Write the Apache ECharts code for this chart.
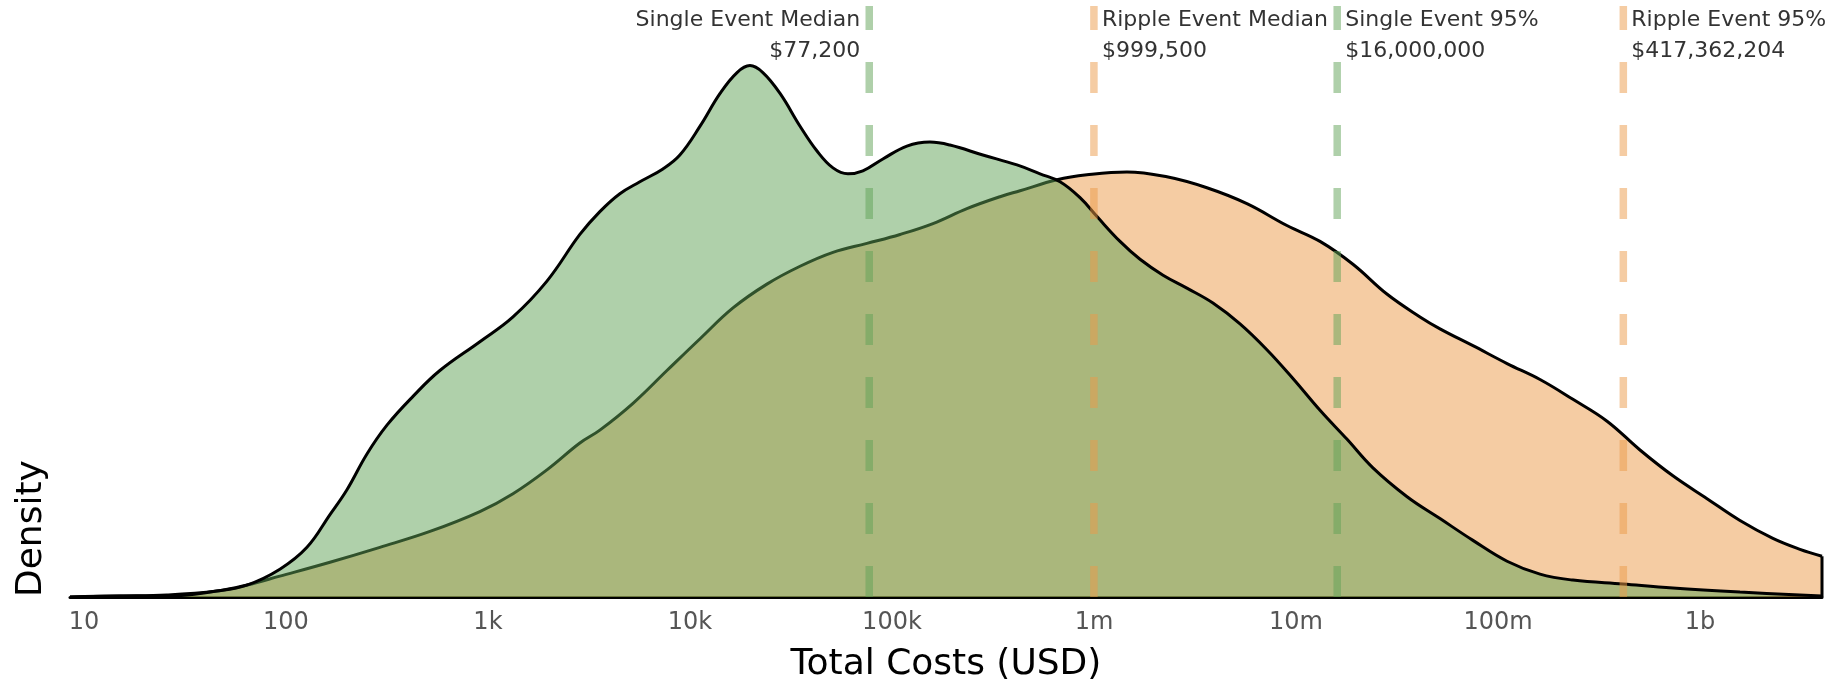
<!DOCTYPE html>
<html>
<head>
<meta charset="utf-8">
<script src="https://cdn.jsdelivr.net/npm/echarts@6/dist/echarts.min.js"></script>
<style>
  html, body { margin: 0; padding: 0; background: #fff; }
  #chart { width: 1842px; height: 688px; }
</style>
</head>
<body>
<div id="chart"></div>
<script>
// x positions are log10(total cost in USD); densities are KDE heights per decade
const tickLogs = [1, 2, 3, 4, 5, 6, 7, 8, 9];
const tickLabels = ['10', '100', '1k', '10k', '100k', '1m', '10m', '100m', '1b'];

const singleLogCost = [0.931, 1.178, 1.411, 1.658, 1.807, 1.970, 2.104, 2.218, 2.302, 2.401,
  2.500, 2.629, 2.762, 2.960, 3.124, 3.292, 3.455, 3.554, 3.653, 3.752,
  3.866, 3.950, 4.050, 4.149, 4.233, 4.297, 4.361, 4.446, 4.545, 4.629,
  4.708, 4.782, 4.856, 4.955, 5.074, 5.188, 5.287, 5.450, 5.619, 5.733,
  5.832, 5.931, 6.015, 6.129, 6.228, 6.342, 6.460, 6.589, 6.723, 6.856,
  6.985, 7.119, 7.252, 7.381, 7.550, 7.713, 7.876, 8.045, 8.208, 8.371,
  8.619, 8.866, 9.198, 9.604];
const singleDensity = [0, 0.001, 0.001, 0.006, 0.012, 0.028, 0.050, 0.083, 0.108, 0.144,
  0.173, 0.202, 0.228, 0.257, 0.282, 0.318, 0.365, 0.388, 0.406, 0.418,
  0.431, 0.445, 0.474, 0.507, 0.528, 0.535, 0.528, 0.507, 0.474, 0.449,
  0.432, 0.426, 0.429, 0.441, 0.454, 0.458, 0.455, 0.445, 0.435, 0.426,
  0.418, 0.402, 0.383, 0.358, 0.340, 0.324, 0.311, 0.296, 0.275, 0.249,
  0.220, 0.188, 0.159, 0.130, 0.101, 0.079, 0.057, 0.036, 0.023, 0.017,
  0.013, 0.009, 0.005, 0.001];

const rippleLogCost = [0.931, 1.178, 1.411, 1.658, 1.807, 1.970, 2.218, 2.465, 2.713, 2.960,
  3.124, 3.292, 3.455, 3.554, 3.718, 3.886, 4.050, 4.213, 4.381, 4.545,
  4.708, 4.876, 5.040, 5.203, 5.371, 5.535, 5.634, 5.817, 5.965, 6.163,
  6.361, 6.559, 6.757, 6.955, 7.119, 7.282, 7.450, 7.614, 7.713, 7.876,
  8.045, 8.208, 8.371, 8.540, 8.703, 8.866, 9.035, 9.198, 9.361, 9.495,
  9.604];
const rippleDensity = [0, 0.001, 0.002, 0.006, 0.012, 0.021, 0.035, 0.050, 0.066, 0.086,
  0.104, 0.128, 0.155, 0.168, 0.195, 0.228, 0.260, 0.291, 0.315, 0.333,
  0.347, 0.356, 0.365, 0.376, 0.391, 0.403, 0.409, 0.420, 0.425, 0.428,
  0.423, 0.412, 0.396, 0.374, 0.358, 0.335, 0.305, 0.282, 0.270, 0.253,
  0.235, 0.219, 0.199, 0.177, 0.148, 0.122, 0.099, 0.077, 0.059, 0.048,
  0.041];

const markerNames = ['Single Event Median', 'Ripple Event Median', 'Single Event 95%', 'Ripple Event 95%'];
const markerCosts = [77200, 999500, 16000000, 417362204];
const markerGroups = ['single', 'ripple', 'single', 'ripple'];

const X_MIN = 0.931, X_MAX = 9.604, Y_MAX = 0.595;
const FONT = 'DejaVu Sans';
const fills = { single: 'rgba(95,161,85,0.5)', ripple: 'rgba(235,153,71,0.5)' };

const zip = (xs, ys) => xs.map((x, i) => [x, ys[i]]);
const chart = echarts.init(document.getElementById('chart'), null, { renderer: 'canvas' });

function densitySeries(name, xs, ys, group, z) {
  return {
    name, type: 'line', data: zip(xs, ys), z,
    smooth: 0.4,
    showSymbol: false, symbol: 'none', silent: true,
    lineStyle: { color: '#000', width: 3 },
    areaStyle: { color: fills[group], origin: 'start', opacity: 1 }
  };
}

const series = [
  densitySeries('Ripple Event', rippleLogCost, rippleDensity, 'ripple', 2),
  densitySeries('Single Event', singleLogCost, singleDensity, 'single', 3),
  // closing edge of the ripple density at the right border
  {
    type: 'line', z: 3, silent: true, symbol: 'none',
    data: [[X_MAX, 0], [X_MAX, rippleDensity[rippleDensity.length - 1]]],
    lineStyle: { color: '#000', width: 3 }
  }
];

markerCosts.forEach((cost, i) => {
  const lx = Math.log10(cost);
  series.push({
    type: 'line', z: 5, silent: true, symbol: 'none',
    data: [[lx, 0], [lx, Y_MAX]],
    lineStyle: { color: fills[markerGroups[i]], width: 7.5, type: [31, 32], cap: 'butt' }
  });
});

chart.setOption({
  backgroundColor: '#fff',
  animation: false,
  grid: { left: 70, right: 20, top: 6, bottom: 87, containLabel: false },
  xAxis: {
    type: 'value', min: X_MIN, max: X_MAX,
    name: 'Total Costs (USD)', nameLocation: 'middle', nameGap: 50,
    nameTextStyle: { fontFamily: FONT, fontSize: 36, color: '#000' },
    axisLine: { show: true, lineStyle: { color: '#000', width: 3 } },
    axisTick: { show: false },
    splitLine: { show: false },
    axisLabel: {
      customValues: tickLogs,
      margin: 14,
      fontFamily: FONT, fontSize: 24, color: '#555',
      formatter: v => tickLabels[tickLogs.indexOf(Math.round(v))]
    }
  },
  yAxis: {
    type: 'value', min: 0, max: Y_MAX, show: false,
    splitLine: { show: false }
  },
  series
});

// marker captions and the density axis title
const graphics = markerCosts.map((cost, i) => {
  const px = chart.convertToPixel({ gridIndex: 0 }, [Math.log10(cost), Y_MAX])[0];
  const rightSide = i !== 0;
  return {
    type: 'text', x: rightSide ? px + 8 : px - 9, y: 5, z: 10,
    style: {
      text: markerNames[i] + '\n$' + cost.toLocaleString('en-US'),
      fontFamily: FONT, fontSize: 22, lineHeight: 31, fill: '#333',
      align: rightSide ? 'left' : 'right', verticalAlign: 'top'
    }
  };
});
const baseY = chart.convertToPixel({ gridIndex: 0 }, [X_MIN, 0])[1];
graphics.push({
  type: 'text', x: 32, y: baseY, rotation: Math.PI / 2, z: 10,
  style: { text: 'Density', fontFamily: FONT, fontSize: 36, fill: '#000', align: 'left', verticalAlign: 'middle' }
});
chart.setOption({ graphic: graphics });
</script>
</body>
</html>
